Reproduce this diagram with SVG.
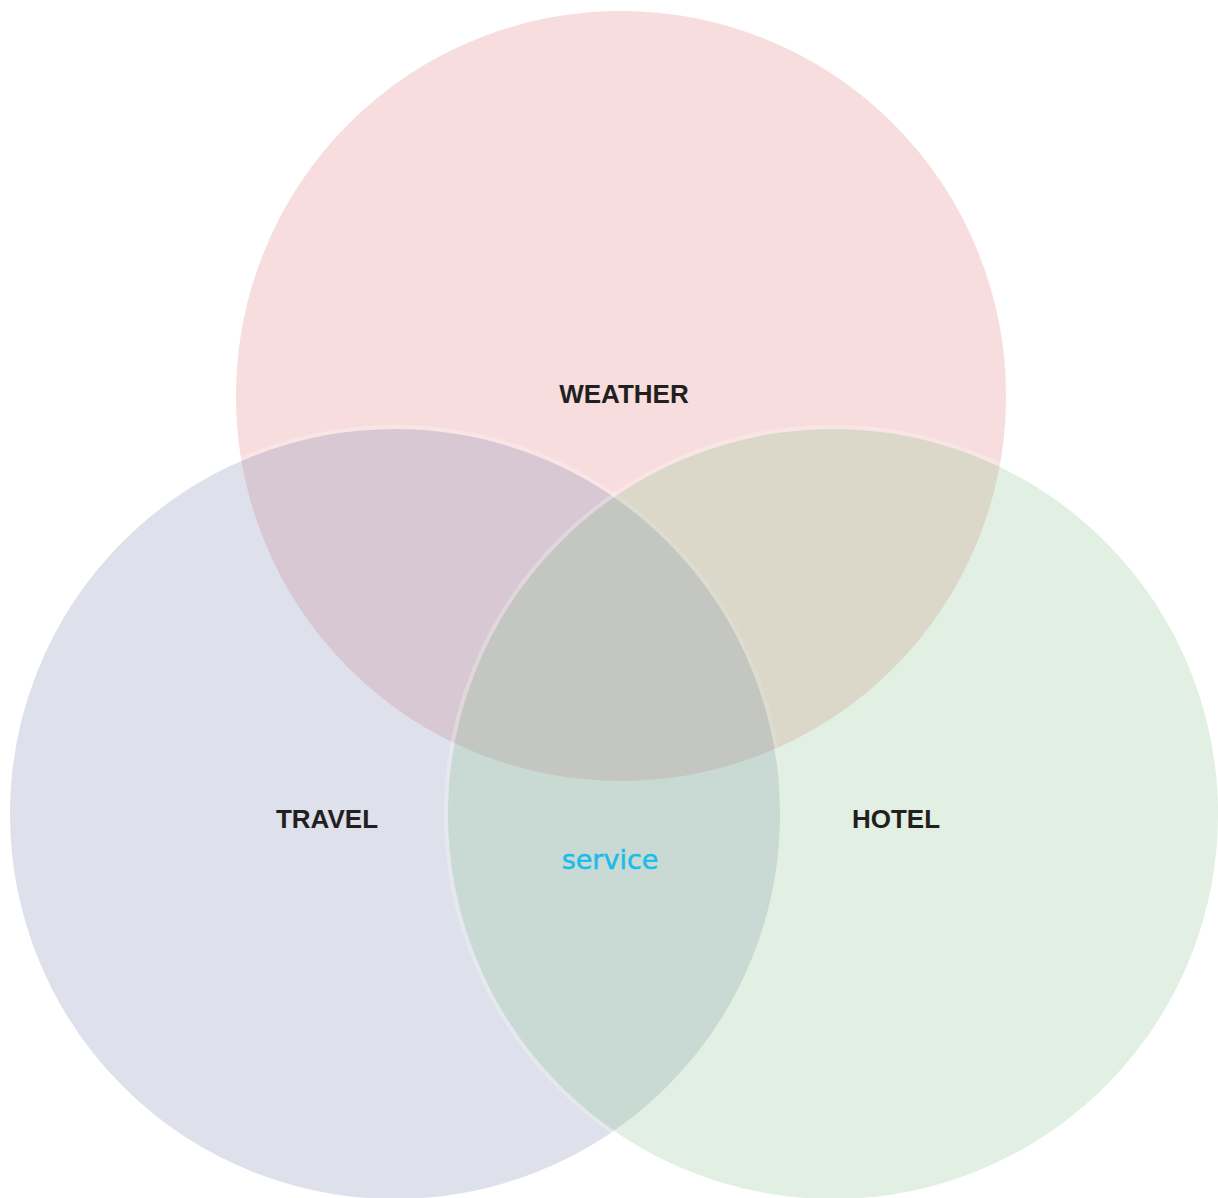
<svg xmlns="http://www.w3.org/2000/svg" width="1218" height="1198" viewBox="0 0 1218 1198">
<style>
.set{opacity:0.25;stroke:#ffffff;stroke-width:4}
.lbl{font-family:"Liberation Sans",Arial,sans-serif;font-weight:bold;font-size:26px;fill:#231f20;text-anchor:middle}
.svc{font-family:"DejaVu Sans","Liberation Sans",sans-serif;font-size:27px;fill:#1bbbec;text-anchor:middle;stroke:#1bbbec;stroke-width:0.5}
</style>
<rect width="1218" height="1198" fill="#ffffff"/>
<g id="weather">
<circle class="set" cx="621" cy="396" r="387" fill="#e27c80"/>
<text class="lbl" x="624" y="403">WEATHER</text>
</g>
<g id="travel">
<circle class="set" cx="395" cy="814" r="387" fill="#7f8bb3"/>
</g>
<g id="hotel">
<circle class="set" cx="833" cy="814" r="387" fill="#8bc78f"/>
</g>
<g id="labels">
<text class="lbl" x="327" y="828">TRAVEL</text>
<text class="lbl" x="896" y="828">HOTEL</text>
<text class="svc" x="610" y="869">service</text>
</g>
<g id="connectors"/>
</svg>
